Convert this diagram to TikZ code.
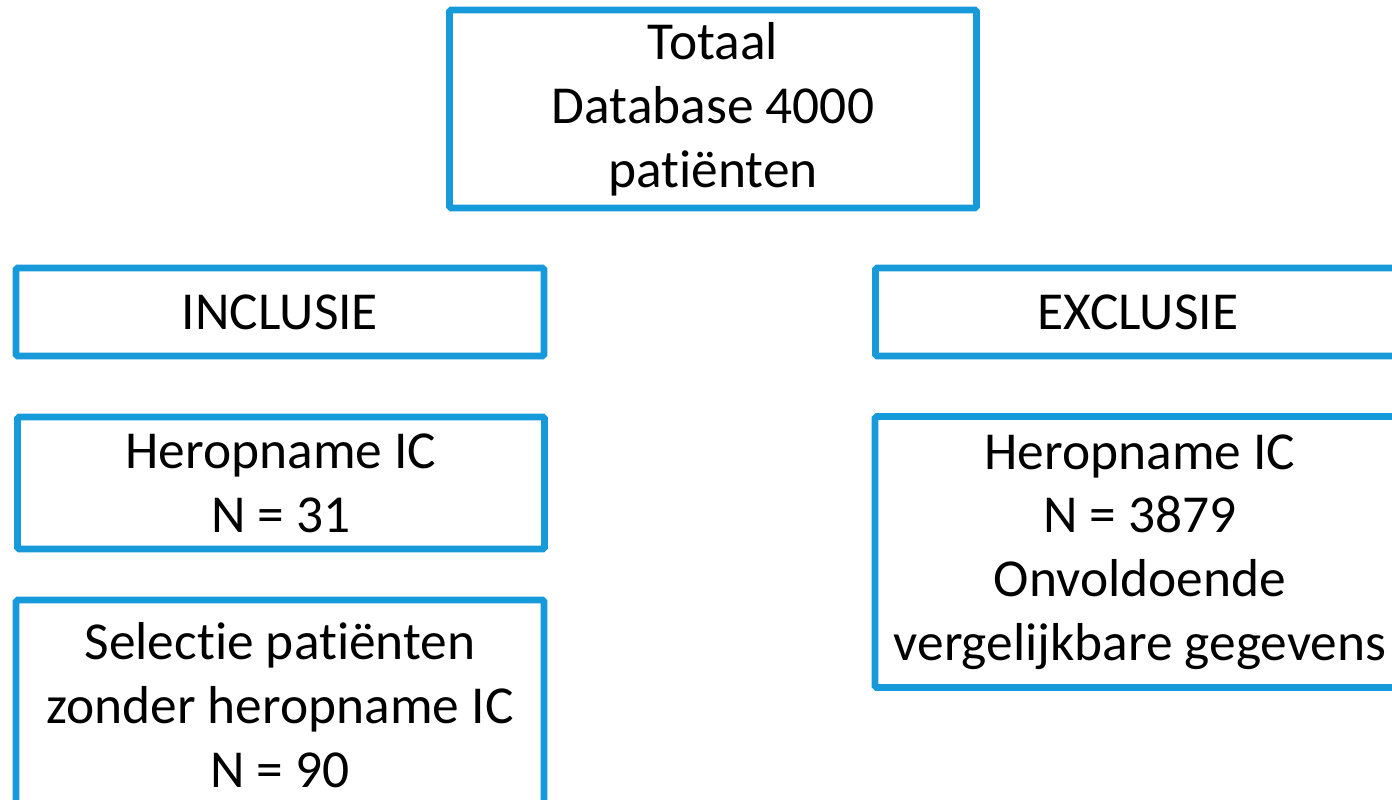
\documentclass[tikz,border=0pt]{standalone}
\usepackage{fontspec}
\setmainfont{Carlito}[Ligatures=NoCommon]
\definecolor{boxblue}{RGB}{22,154,217}

\begin{document}
\begin{tikzpicture}[x=0.02cm, y=-0.02cm,
        bluebox/.style={draw=boxblue, line width=3.9pt, rounded corners=1pt, align=center,
            inner sep=0pt, font=\fontsize{30.4}{36.3}\selectfont}]
        \useasboundingbox (0,0) rectangle (1392,799);
        \clip (0,0) rectangle (1392,799);
        \node [bluebox, minimum width=10.54cm, minimum height=3.96cm] (totaal) at (713,109) {Totaal\\Database 4000\\patiënten};
        \node [bluebox, minimum width=10.56cm, minimum height=1.76cm] (inclusie) at (280,312) {INCLUSIE};
        \node [bluebox, minimum width=10.5cm, minimum height=1.76cm] (exclusie) at (1138,312) {EXCLUSIE};
        \node [bluebox, minimum width=10.54cm, minimum height=2.64cm] (heropIn) at (281,483) {Heropname IC\\N = 31};
        \node [bluebox, minimum width=10.56cm, minimum height=4.2cm] (selectie) at (280,705) {Selectie patiënten\\zonder heropname IC\\N = 90};
        \node [bluebox, minimum width=10.6cm, minimum height=5.42cm] (heropEx) at (1140,552) {Heropname IC\\N = 3879\\Onvoldoende\\vergelijkbare gegevens};
    \end{tikzpicture}
\end{document}
